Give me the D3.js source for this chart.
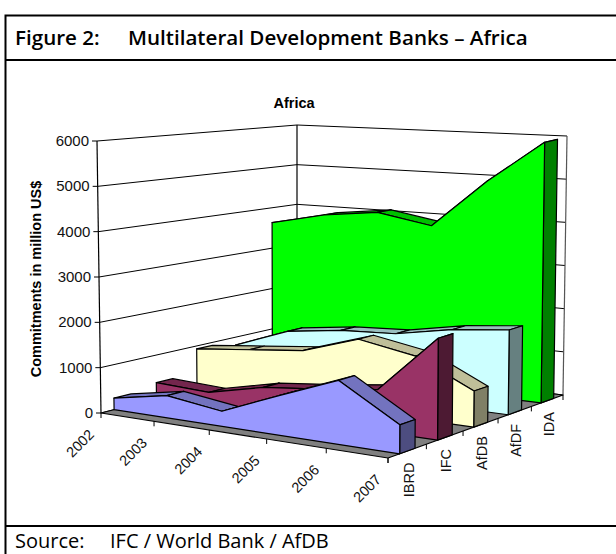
<!DOCTYPE html>
<html>
<head>
<meta charset="utf-8">
<script src="https://cdn.jsdelivr.net/npm/d3@7"></script>
<style>
  html, body { margin: 0; padding: 0; background: #fff; }
  svg { display: block; }
</style>
</head>
<body>
<div id="graf"></div>
<script>
// datos (millones de US$)
years  = ['2002', '2003', '2004', '2005', '2006', '2007']
series = ['IBRD', 'IFC', 'AfDB', 'AfDF', 'IDA']
yTicks = [0, 1000, 2000, 3000, 4000, 5000, 6000]

ibrd = [255, 490, 330, 860, 1380, 620]
ifc  = [370, 320, 610, 750, 920, 2220]
afdb = [930, 1070, 1210, 1630, 1410, 800]
afdf = [810, 1290, 1460, 1530, 1770, 1910]
ida  = [3630, 3920, 4080, 3860, 5000, 5970]
valores = [ibrd, ifc, afdb, afdf, ida]

colores = [
  { front: '#9999ff', top: '#7373bf', end: '#4d4d80' },
  { front: '#993366', top: '#73264d', end: '#4d1a33' },
  { front: '#ffffcc', top: '#bfbf99', end: '#808066' },
  { front: '#ccffff', top: '#99bfbf', end: '#668080' },
  { front: '#00ff00', top: '#00bf00', end: '#008000' }
]

ancho_total = 616
alto_total  = 554

svg = d3.select('#graf').append('svg')
  .attr('width', ancho_total)
  .attr('height', alto_total)
  .attr('font-family', 'Liberation Sans')

// plano bilineal entre cuatro esquinas (frente izq, frente der, fondo der, fondo izq)
function plano(q) {
  return (u, v) => {
    const f = d3.interpolateNumber(q[0][0], q[1][0])(u), fy = d3.interpolateNumber(q[0][1], q[1][1])(u)
    const b = d3.interpolateNumber(q[3][0], q[2][0])(u), by = d3.interpolateNumber(q[3][1], q[2][1])(u)
    return [f + (b - f) * v, fy + (by - fy) * v]
  }
}

// esquinas de la caja 3D en pantalla
suelo = plano([[101, 413], [388, 458], [563, 395], [297, 363]])
techo = plano([[97, 141], [389, 176], [567, 136], [297, 125]])

// Escaladores
x = d3.scalePoint().domain(years).range([0, 1])
z = d3.scaleBand().domain(series).range([0, 1]).paddingInner(0.6).paddingOuter(0.3)
h = d3.scaleLinear().domain([0, 6000]).range([0, 1])

// perspectiva: los años se abren hacia el frente y las series hacia adelante
function proy(t, s, v) {
  const s2 = s + 0.12 * s * (1 - s)
  const u = t - (0.095 - 0.05 * s2) * t * (1 - t)
  const a = suelo(u, s2), b = techo(u, s2), k = h(v)
  return [a[0] + (b[0] - a[0]) * k, a[1] + (b[1] - a[1]) * k]
}

linea = d3.line().curve(d3.curveLinearClosed)

function poly(g, pts, fill, sw) {
  g.append('path')
    .attr('d', linea(pts))
    .attr('fill', fill)
    .attr('stroke', '#000')
    .attr('stroke-width', sw || 1.2)
    .attr('stroke-linejoin', 'round')
}

// Marco de la figura
marco = svg.append('g')
marco.append('path')
  .attr('d', 'M616,15.5 H5.5 V554 M5 60 H616 M5 526 H616')
  .attr('fill', 'none')
  .attr('stroke', '#000')
  .attr('stroke-width', 2)

function rotulo(px, py, size, weight, txt) {
  marco.append('text')
    .attr('x', px).attr('y', py)
    .attr('font-family', 'Open Sans')
    .attr('font-weight', weight)
    .attr('font-size', size + 'px')
    .attr('fill', '#000')
    .text(txt)
}
rotulo(15, 45, 20.6, 600, 'Figure 2:')
rotulo(128, 45, 20.6, 600, 'Multilateral Development Banks – Africa')
rotulo(15, 548, 20, 400, 'Source:')
rotulo(110, 548, 20, 400, 'IFC / World Bank / AfDB')

// Titulo del grafico
svg.append('text')
  .attr('x', 294).attr('y', 108)
  .attr('text-anchor', 'middle')
  .attr('font-weight', 'bold')
  .attr('font-size', '14.5px')
  .text('Africa')

// Paredes y lineas de reticula
pared = svg.append('g')
yTicks.forEach(d => {
  const a = proy(0, 0, d), b = proy(0, 1, d), c = proy(1, 1, d)
  pared.append('path')
    .attr('d', d3.line()([a, b, c]))
    .attr('fill', 'none')
    .attr('stroke', '#000')
    .attr('stroke-width', 1)
  // marca del eje
  pared.append('line')
    .attr('x1', a[0] - 5).attr('y1', a[1])
    .attr('x2', a[0]).attr('y2', a[1])
    .attr('stroke', '#000')
  pared.append('text')
    .attr('x', a[0] - 8).attr('y', a[1] + 5)
    .attr('text-anchor', 'end')
    .attr('font-size', '15px')
    .attr('fill', '#111')
    .text(d)
})
;[[0, 0], [0, 1], [1, 1]].forEach(d => {
  const a = proy(d[0], d[1], 0), b = proy(d[0], d[1], 6000)
  pared.append('line')
    .attr('x1', a[0]).attr('y1', a[1]).attr('x2', b[0]).attr('y2', b[1])
    .attr('stroke', d[0] == 1 ? '#555' : '#000')
    .attr('stroke-width', 1.2)
})

// Suelo gris
poly(svg, [proy(0, 0, 0), proy(1, 0, 0), proy(1, 1, 0), proy(0, 1, 0)], '#808080', 1.2)

// Series, de atras hacia adelante
areas = svg.append('g')
d3.reverse(series).forEach(name => {
  const i = series.indexOf(name)
  const vals = valores[i]
  const c = colores[i]
  const s0 = z(name), s1 = z(name) + z.bandwidth()
  const g = areas.append('g').attr('class', 'area-' + name)

  // caras superiores de cada tramo
  d3.pairs(years.map((y, j) => [x(y), vals[j]])).forEach(([p, q]) => {
    poly(g, [proy(p[0], s0, p[1]), proy(q[0], s0, q[1]), proy(q[0], s1, q[1]), proy(p[0], s1, p[1])], c.top)
  })

  // cara lateral derecha
  const last = vals.length - 1
  poly(g, [proy(1, s0, 0), proy(1, s1, 0), proy(1, s1, vals[last]), proy(1, s0, vals[last])], c.end)

  // cara frontal
  const front = years.map((y, j) => proy(x(y), s0, vals[j]))
  poly(g, [proy(0, s0, 0), ...front, proy(1, s0, 0)], c.front)
})

// Etiquetas de los ejes inferiores
ejes = svg.append('g')
years.forEach(y => {
  const p = proy(x(y), 0, 0)
  ejes.append('line')
    .attr('x1', p[0]).attr('y1', p[1])
    .attr('x2', p[0]).attr('y2', p[1] + 5)
    .attr('stroke', '#000')
  ejes.append('text')
    .attr('transform', `translate(${p[0] - 6},${p[1] + 22.5}) rotate(-45)`)
    .attr('text-anchor', 'end')
    .attr('font-size', '14.5px')
    .attr('fill', '#111')
    .text(y)
})
series.forEach(name => {
  const s = z(name) + z.bandwidth() / 2
  const p = proy(1, s, 0)
  ejes.append('text')
    .attr('transform', `translate(${p[0] + 6.5},${p[1] + 11.5}) rotate(-90)`)
    .attr('text-anchor', 'end')
    .attr('font-size', '14.5px')
    .attr('fill', '#111')
    .text(name)
})
// marcas entre series
d3.range(0, 6).forEach(d => {
  const p = proy(1, d / 5, 0)
  ejes.append('line')
    .attr('x1', p[0]).attr('y1', p[1])
    .attr('x2', p[0]).attr('y2', p[1] + 5)
    .attr('stroke', '#000')
})

svg.append('text')
  .attr('transform', 'translate(41,279) rotate(-90)')
  .attr('text-anchor', 'middle')
  .attr('font-weight', 'bold')
  .attr('font-size', '14.5px')
  .text('Commitments in million US$')
</script>
</body>
</html>
